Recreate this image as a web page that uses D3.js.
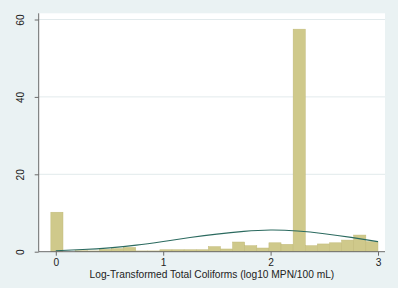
<!DOCTYPE html>
<html>
<head>
<meta charset="utf-8">
<script src="https://cdn.jsdelivr.net/npm/d3@7"></script>
<style>
  body { margin: 0; background: #eaf2f3; }
  svg { display: block; font-family: "Liberation Sans", Arial, sans-serif; }
</style>
</head>
<body>
<svg id="chart" width="398" height="288"></svg>
<script>
// histogram bins (percent), bin start and width
const binStart = -0.046;
const binWidth = 0.1128;
const percents = [10.2, 0, 0.25, 0.2, 0.6, 0.8, 1.1, 0.2, 0.2, 0.5, 0.5, 0.5, 0.5,
                  1.3, 0.7, 2.5, 1.55, 0.95, 2.3, 1.9, 57.5, 1.55, 2.0, 2.3, 3.0, 4.3, 2.6];
// normal density overlay
const curveX = [0, 0.25, 0.5, 0.75, 1, 1.25, 1.5, 1.75, 2, 2.25, 2.5, 2.75, 3];
const curveY = [0.25, 0.55, 1.0, 1.7, 2.65, 3.65, 4.55, 5.25, 5.6, 5.35, 4.65, 3.7, 2.6];
const xTicks = [0, 1, 2, 3];
const yTicks = [0, 20, 40, 60];
const xTitle = 'Log-Transformed Total Coliforms (log10 MPN/100 mL)';

let svg = d3.select('#chart');
let plot = { left: 38.7, right: 385, top: 13.3, bottom: 251.7 };

let x = d3.scaleLinear().domain([0, 3]).range([55.8, 378]);
let y = d3.scaleLinear().domain([0, 60]).range([plot.bottom, 19.5]);

svg.append('rect')
    .attr('width', 398).attr('height', 288)
    .attr('fill', '#eaf2f3');

svg.append('rect')
    .attr('x', plot.left).attr('y', plot.top)
    .attr('width', plot.right - plot.left)
    .attr('height', plot.bottom - plot.top)
    .attr('fill', '#ffffff');

// grid lines
svg.append('g')
    .selectAll('line')
    .data(yTicks.filter(d => d > 0))
    .join('line')
    .attr('x1', plot.left).attr('x2', plot.right)
    .attr('y1', d => y(d)).attr('y2', d => y(d))
    .attr('stroke', '#e2eaec')
    .attr('stroke-width', 1);

// bars
svg.append('g')
    .selectAll('rect')
    .data(percents)
    .join('rect')
    .attr('x', (d, i) => x(binStart + i * binWidth))
    .attr('width', x(binWidth) - x(0))
    .attr('y', d => y(d))
    .attr('height', d => y(0) - y(d))
    .attr('fill', '#cfc98b')
    .attr('stroke', '#c1ba78')
    .attr('stroke-width', 0.5);

// normal curve
let line = d3.line()
    .x((d, i) => x(curveX[i]))
    .y(d => y(d))
    .curve(d3.curveNatural);
svg.append('path')
    .datum(curveY)
    .attr('d', line)
    .attr('fill', 'none')
    .attr('stroke', '#2b6a5f')
    .attr('stroke-width', 1.1);

// y axis
let yAxis = svg.append('g')
    .attr('transform', 'translate(' + plot.left + ',0)')
    .call(d3.axisLeft(y).tickValues(yTicks).tickFormat(d3.format('d')).tickSize(4));
yAxis.select('.domain').attr('d', 'M0,' + plot.top + 'V' + plot.bottom).attr('stroke', '#6b6b6b');
yAxis.selectAll('.tick line').attr('stroke', '#6b6b6b');
yAxis.selectAll('.tick text')
    .attr('font-size', 10.2)
    .attr('fill', '#222')
    .attr('text-anchor', 'middle')
    .attr('x', 0)
    .attr('y', 0)
    .attr('dy', '0.35em')
    .attr('transform', 'translate(-18.5,0) rotate(-90)');

// x axis
let xAxis = svg.append('g')
    .attr('transform', 'translate(0,' + plot.bottom + ')')
    .call(d3.axisBottom(x).tickValues(xTicks).tickFormat(d3.format('d')).tickSize(4).tickPadding(3));
xAxis.select('.domain').attr('d', 'M' + plot.left + ',0H' + plot.right).attr('stroke', '#6b6b6b');
xAxis.selectAll('.tick line').attr('stroke', '#6b6b6b');
xAxis.selectAll('.tick text')
    .attr('font-size', 10.2)
    .attr('fill', '#222');

svg.append('text')
    .attr('x', (x(0) + x(3)) / 2 - 5)
    .attr('y', 278)
    .attr('text-anchor', 'middle')
    .attr('font-size', 10.2)
    .attr('fill', '#222')
    .text(xTitle);
</script>
</body>
</html>
